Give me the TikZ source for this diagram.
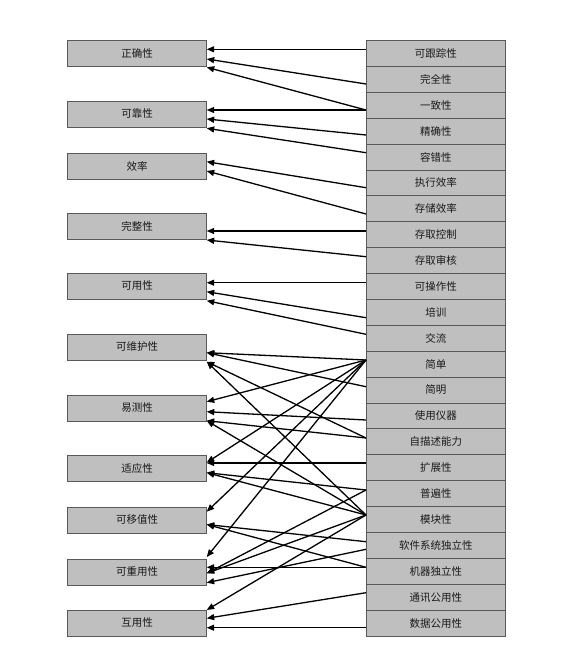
\documentclass[tikz,border=0pt]{standalone}
\usepackage{fontspec}
\newfontfamily\cjk{Noto Sans CJK SC}
\usetikzlibrary{arrows.meta}
\begin{document}
\begin{tikzpicture}[x=1pt,y=-1pt,
  box/.style={draw=black!65,line width=0.8pt,fill=black!25,inner sep=0pt,outer sep=0pt,
    font=\cjk\fontsize{10.5}{12}\selectfont,text=black!90},
  lbox/.style={box,minimum width=139.4pt,minimum height=26pt},
  rbox/.style={box,minimum width=139.7pt,minimum height=25.89pt},
  conn/.style={line width=1.3pt,-{Triangle[length=7.5pt,width=6pt]}}]
\useasboundingbox (0,0) rectangle (561,653);
% quality factors (left column)
\foreach \t/\y [count=\i] in {正确性/53,可靠性/114,效率/166,完整性/226,可用性/286,
  可维护性/347,易测性/408,适应性/468,可移值性/520,可重用性/572,互用性/623}
  \node[lbox] (l\i) at (137,\y) {\t};
% quality criteria (right column)
\foreach \t [count=\i from 0] in {可跟踪性,完全性,一致性,精确性,容错性,执行效率,存储效率,
  存取控制,存取审核,可操作性,培训,交流,简单,简明,使用仪器,自描述能力,扩展性,普遍性,
  模块性,软件系统独立性,机器独立性,通讯公用性,数据公用性}
  \node[rbox] (r\i) at (435.85,53.45+25.89*\i) {\t};
% criterion -> factor connectors
\foreach \a/\ay/\b/\by in {
  0/49.3/1/49.3, 1/84/1/59, 2/110/1/67.3,
  2/110/2/110, 3/135/2/119, 4/152.7/2/128.3,
  5/187.7/3/161.7, 6/214/3/171,
  7/231/4/231, 8/256.7/4/240,
  9/282.7/5/282.7, 10/317.7/5/291.7, 11/334.3/5/300.7,
  12/360/6/352.7, 13/386.7/6/352.7, 15/438/6/361.7, 18/515/6/361.7,
  12/360/7/401.7, 14/420/7/411.7, 15/438/7/420.7, 18/515/7/420.7,
  12/360/8/462.5, 16/463/8/463, 17/490/8/472.7, 18/515/8/472.7,
  12/360/9/511.7, 19/541.7/9/524.5, 20/567.3/9/524.5,
  12/360/10/557, 20/567.3/10/567.3, 17/490/10/573.3, 18/515/10/573.3, 19/549.3/10/582.7,
  18/515/11/610, 21/592.7/11/618.3, 22/627.7/11/627.7}
  \draw[conn] (r\a.west |- 0,\ay) -- (l\b.east |- 0,\by);
\end{tikzpicture}
\end{document}
